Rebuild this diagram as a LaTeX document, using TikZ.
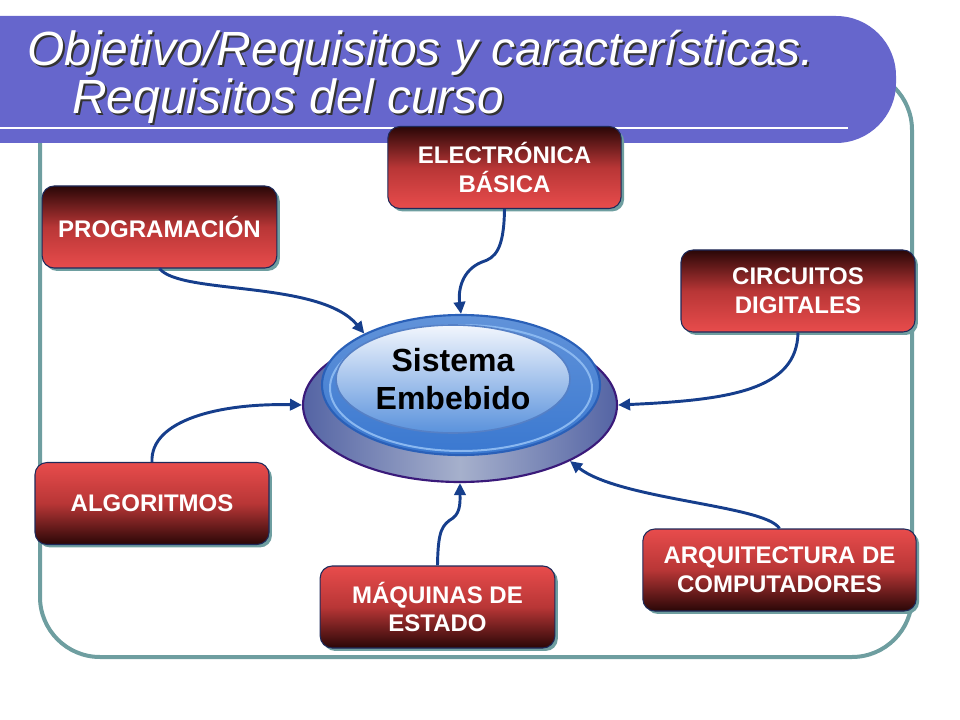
\documentclass[tikz,border=0pt]{standalone}
\usepackage{fontspec}
\setmainfont{Liberation Sans}
\usetikzlibrary{shapes.geometric,arrows.meta,shadows}

\definecolor{bandblue}{HTML}{6666CC}
\definecolor{frameteal}{HTML}{6E9EA0}
\definecolor{boxred}{HTML}{E84C4C}
\definecolor{boxmid}{HTML}{B83636}
\definecolor{boxdark}{HTML}{2A0707}
\definecolor{boxline}{HTML}{1E2A5A}
\definecolor{linkblue}{HTML}{163E8C}
\definecolor{baserim}{HTML}{3A1A7A}
\definecolor{baseside}{HTML}{5464A4}
\definecolor{basemid}{HTML}{A6B0CC}
\definecolor{topblue}{HTML}{3A78D0}
\definecolor{toprim}{HTML}{2A60B8}
\definecolor{ringlight}{HTML}{8AB8F0}
\definecolor{corelight}{HTML}{F2F6FD}
\definecolor{coreblue}{HTML}{5A92DC}

\tikzset{
	topic/.style={rounded corners=9pt, draw=boxline, line width=0.8pt, text=white,
		font=\fontsize{18}{21.5}\selectfont\bfseries, align=center,
		minimum height=61.5pt, inner sep=0pt,
		drop shadow={shadow xshift=2.2pt, shadow yshift=-2.2pt, fill=frameteal, opacity=1}},
	titletext/.style={anchor=base west, inner sep=0pt, text=white,
		font=\fontsize{36}{40}\selectfont\itshape},
	link/.style={draw=linkblue, line width=2.2pt, -{Triangle[length=9pt,width=8.5pt]}},
	sysbase/.style={ellipse, inner sep=0pt, minimum width=235.5pt, minimum height=115.5pt,
		left color=baseside, right color=baseside, middle color=basemid,
		draw=baserim, line width=1.6pt},
	systop/.style={ellipse, inner sep=0pt, minimum width=208.5pt, minimum height=105pt,
		top color=topblue!80!white, bottom color=topblue, draw=toprim, line width=1.6pt},
	syscore/.style={ellipse, inner sep=0pt, minimum width=175.5pt, minimum height=81pt,
		top color=corelight, bottom color=coreblue, draw=toprim!80!white, line width=1.2pt,
		font=\fontsize{24}{28}\selectfont\bfseries, align=center, text=black}
}

\begin{document}
\begin{tikzpicture}[x=0.75pt, y=-0.75pt]
	\useasboundingbox (0,0) rectangle (960,720);
	
	\draw[frameteal, line width=3pt, rounded corners=45pt] (40,70) rectangle (912,657);
	
	\begin{scope}
		\clip (0,0) rectangle (960,720);
		\fill[bandblue, rounded corners=45pt] (-100,16) rectangle (896,143);
	\end{scope}
	\draw[white, line width=2.2pt] (0,128) -- (848,128);
	
	\node[titletext, text=black!80] (title1s) at (29,68) {Objetivo/Requisitos y características.};
	\node[titletext] (title1) at (27,66) {Objetivo/Requisitos y características.};
	\node[titletext, text=black!80] (title2s) at (74,116) {Requisitos del curso};
	\node[titletext] (title2) at (72,114) {Requisitos del curso};
	
	\foreach \id/\x/\y/\w/\ctop/\cbot/\txt in {
		elec/504.5/167.5/175pt/boxdark/boxred/{ELECTRÓNICA\\BÁSICA},
		prog/159.5/227/176pt/boxdark/boxred/PROGRAMACIÓN,
		circ/798/291/175.5pt/boxdark/boxred/{CIRCUITOS\\DIGITALES},
		algo/152/503.5/175.5pt/boxred/boxdark/ALGORITMOS,
		maq/437.5/607/176pt/boxred/boxdark/{MÁQUINAS DE\\ESTADO},
		arq/779.5/570/205pt/boxred/boxdark/{ARQUITECTURA DE\\COMPUTADORES}}
	{
		\node[topic, minimum width=\w, top color=\ctop, bottom color=\cbot, middle color=boxmid]
			(\id) at (\x,\y) {\txt};
	};
	
	\node[sysbase] (base) at (460,405) {};
	\node[systop] (top) at (461,385) {};
	\draw[ringlight, line width=1.5pt] (461,388) ellipse [x radius=131, y radius=63];
	\node[syscore] (core) at (453,379) {Sistema\\Embebido};
	
	\draw[link] (prog.south) .. controls (180,295) and (320,280) .. (top.152);
	\draw[link] (elec.south) .. controls (504,250) and (495,258) .. (482,262)
		.. controls (462,270) and (458,290) .. (top.north);
	\draw[link] (circ.south) .. controls (797,390) and (730,400) .. (base.east);
	\draw[link] (algo.north) .. controls (150,420) and (220,403) .. (base.west);
	\draw[link] (maq.north) .. controls (438,530) and (442,525) .. (453,518)
		.. controls (461,512) and (460,500) .. (base.south);
	\draw[link] (arq.north) .. controls (765,505) and (620,500) .. (base.-27);
	
\end{tikzpicture}
\end{document}
